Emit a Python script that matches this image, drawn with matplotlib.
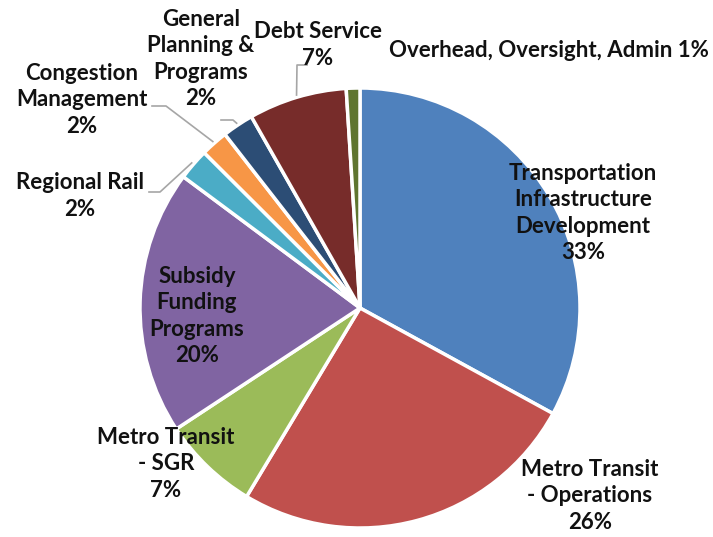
import numpy as np
import matplotlib
matplotlib.use("Agg")
import matplotlib.pyplot as plt

# slices, clockwise from 12 o'clock
names = [
    "Transportation\nInfrastructure\nDevelopment",
    "Metro Transit\n- Operations",
    "Metro Transit\n- SGR",
    "Subsidy\nFunding\nPrograms",
    "Regional Rail",
    "Congestion\nManagement",
    "General\nPlanning &\nPrograms",
    "Debt Service",
    "Overhead, Oversight, Admin",
]
shares = [32.9, 25.6, 7.1, 19.4, 2.3, 2.0, 2.3, 7.2, 1.0]
pct_labels = ["33%", "26%", "7%", "20%", "2%", "2%", "2%", "7%", "1%"]
colors = ["#4F81BD", "#C0504D", "#9BBB59", "#8064A2", "#4BACC6",
          "#F79646", "#2C4D75", "#772C2A", "#5F7530"]

W, H = 713, 537
fig = plt.figure(figsize=(W / 100, H / 100), dpi=100)
cx, cy, R = 360, 308, 220  # pie centre / radius in pixels
ax = fig.add_axes([(cx - R) / W, (H - cy - R) / H, 2 * R / W, 2 * R / H])

wedges, _ = ax.pie(shares, colors=colors, startangle=90, counterclock=False,
                   wedgeprops=dict(edgecolor="white", linewidth=2.5))
ax.set_xlim(-1, 1)
ax.set_ylim(-1, 1)
ax.set_aspect("equal")


def px(x, y):
    """pixel position (from top-left) -> pie data coords"""
    return (x - cx) / R, (cy - y) / R


# label centres in pixels, and whether the percent goes on a new line
label_pos = [(583, 213), (590, 496), (166, 464), (197, 316), (80, 196),
             (82, 100), (201, 59), (318, 45), (549, 51)]
newline = [True, True, True, True, True, True, True, True, False]

font = dict(family=["Lato", "DejaVu Sans"], fontweight="bold", fontsize=16,
            color="#111111", ha="center", va="center", linespacing=1.32)
for i, w in enumerate(wedges):
    sep = "\n" if newline[i] else " "
    x, y = px(*label_pos[i])
    ax.text(x, y, names[i] + sep + pct_labels[i], clip_on=False, **font)

# leader lines: label side (pixels) -> slice edge
leaders = {
    4: [(149, 192), (160, 192)],
    5: [(152, 106), (166, 106)],
    6: [(221, 120), (233, 120)],
    7: [(307, 65), (297, 65)],
}
for i, pts in leaders.items():
    w = wedges[i]
    mid = np.radians((w.theta1 + w.theta2) / 2)
    end = (1.01 * np.cos(mid), 1.01 * np.sin(mid))
    xs = [px(*p)[0] for p in pts] + [end[0]]
    ys = [px(*p)[1] for p in pts] + [end[1]]
    ax.plot(xs, ys, color="#a6a6a6", linewidth=1.2, clip_on=False)

fig.savefig("out.png", dpi=100, facecolor="white")
